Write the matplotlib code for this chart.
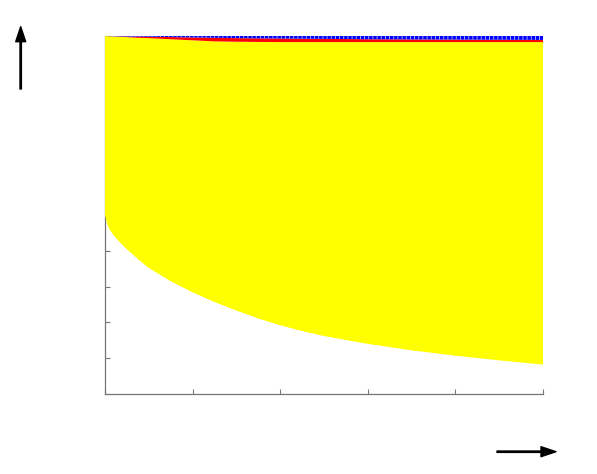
import matplotlib
matplotlib.use("Agg")
import matplotlib.pyplot as plt

# Data
x = [0.0, 0.005, 0.01, 0.02, 0.03, 0.05, 0.075, 0.10, 0.15, 0.20, 0.25,
     0.30, 0.35, 0.40, 0.45, 0.50, 0.60, 0.70, 0.80, 0.90, 1.0]
lower = [0.500, 0.475, 0.460, 0.443, 0.429, 0.404, 0.377, 0.352, 0.315,
         0.284, 0.257, 0.233, 0.211, 0.192, 0.176, 0.162, 0.140, 0.122,
         0.107, 0.094, 0.082]
yellow_top = [1.000, 0.9997, 0.9994, 0.9988, 0.998, 0.9968, 0.995, 0.994,
              0.991, 0.988, 0.985, 0.984, 0.9835, 0.983, 0.983, 0.983,
              0.983, 0.983, 0.983, 0.983, 0.983]
red_top = [1.000, 0.9998, 0.9995, 0.9993, 0.999, 0.9987, 0.9984, 0.998,
           0.997, 0.996, 0.995, 0.994, 0.9935, 0.993, 0.9925, 0.992, 0.991,
           0.9905, 0.990, 0.9895, 0.989]
blue_top = [1.0] * len(x)

xticks = [0.0, 0.2, 0.4, 0.6, 0.8, 1.0]
yticks = [i / 10 for i in range(11)]

plt.rcParams['hatch.linewidth'] = 0.6

fig = plt.figure(figsize=(5.97, 4.74), dpi=100)
ax = fig.add_axes([105 / 597, 80 / 474, 438 / 597, 358 / 474])

ax.fill_between(x, lower, yellow_top, facecolor='#ffff00', edgecolor='none',
                linewidth=0, zorder=3)
ax.fill_between(x, yellow_top, red_top, facecolor='#ff0000', edgecolor='none',
                linewidth=0, zorder=3)
ax.fill_between(x, red_top, blue_top, facecolor='#0000ff', edgecolor='#b8c0ff',
                hatch='||||', linewidth=0, zorder=3)

ax.set_xlim(0, 1)
ax.set_ylim(0, 1)
ax.set_xticks(xticks)
ax.set_yticks(yticks)
ax.set_xticklabels([])
ax.set_yticklabels([])
ax.tick_params(direction='in', length=3.6, width=0.8, color='#777777')
for s in ['top', 'right']:
    ax.spines[s].set_visible(False)
for s in ['left', 'bottom']:
    ax.spines[s].set_color('#777777')
    ax.spines[s].set_linewidth(0.9)
    ax.spines[s].set_zorder(1)

# Arrows in figure pixel coordinates
arrow_props = dict(facecolor='black', edgecolor='black', width=1.0,
                   headwidth=7.2, headlength=10.8, shrink=0.0)
ax.annotate('', xy=(20.7, 447.3), xytext=(20.7, 385), xycoords='figure pixels',
            textcoords='figure pixels', arrowprops=arrow_props,
            annotation_clip=False)
ax.annotate('', xy=(556, 22.3), xytext=(497, 22.3), xycoords='figure pixels',
            textcoords='figure pixels', arrowprops=arrow_props,
            annotation_clip=False)

fig.savefig('out.png', dpi=100)
